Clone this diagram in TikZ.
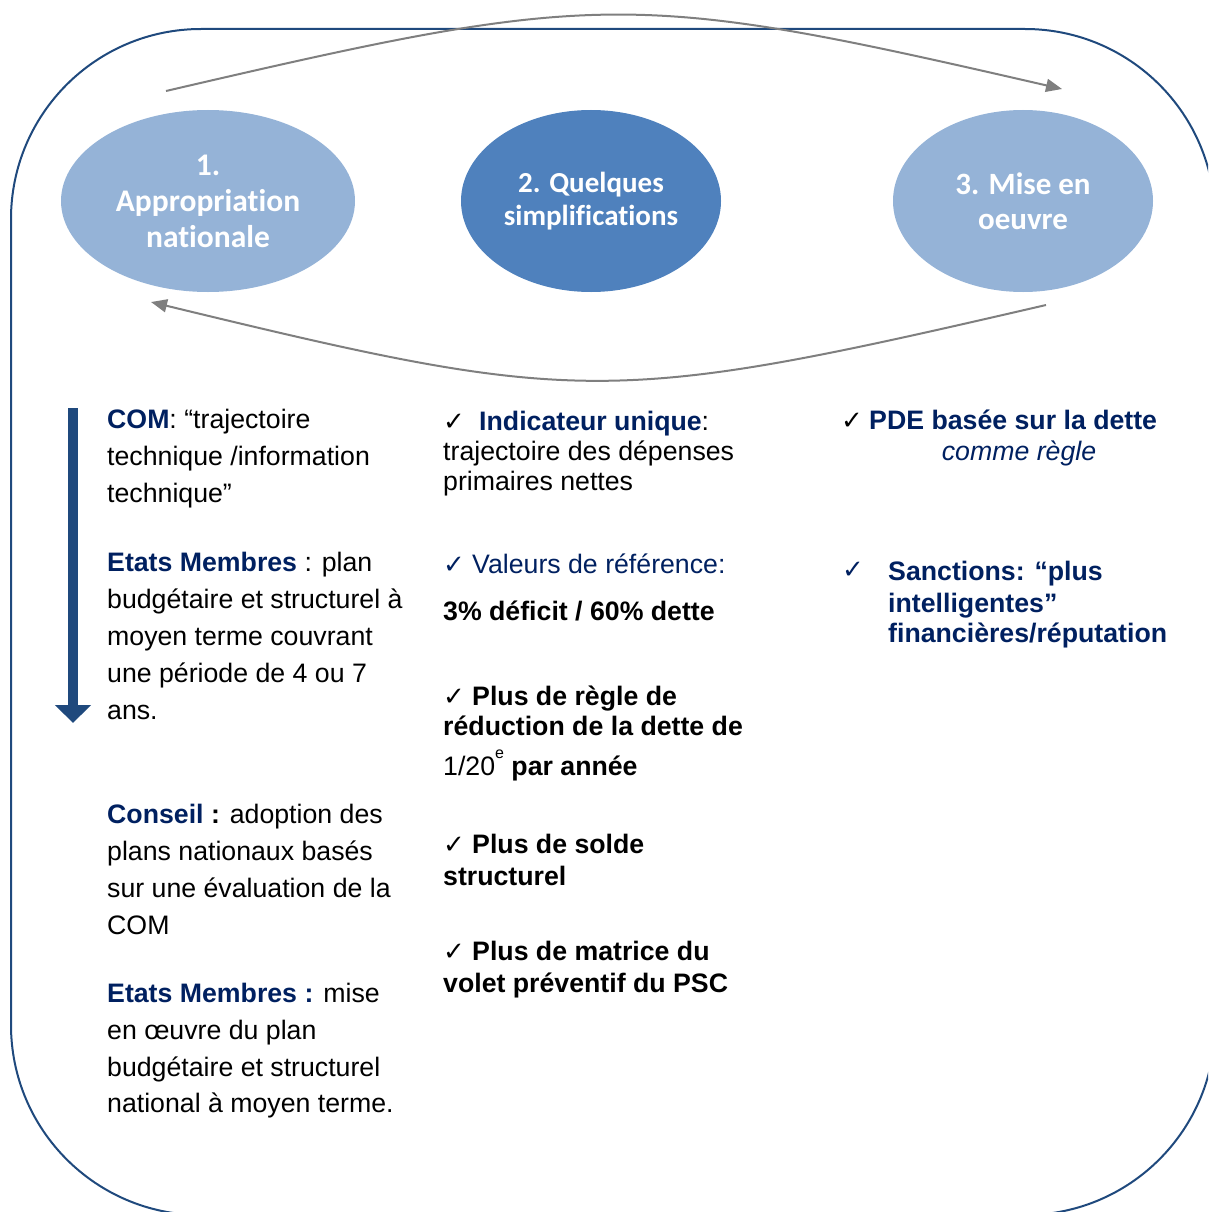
\documentclass[tikz,border=0pt]{standalone}
\usepackage{fontspec}
\setmainfont{Liberation Sans}
\newfontfamily\calibfont[Ligatures=NoCommon]{Carlito}
\newfontfamily\dejafont{DejaVu Sans}
\usetikzlibrary{shapes.geometric,arrows.meta}
\definecolor{navy}{RGB}{0,32,96}
\definecolor{frameblue}{RGB}{31,73,125}
\definecolor{lightblue}{RGB}{149,179,215}
\definecolor{midblue}{RGB}{79,129,189}
\definecolor{arcgray}{RGB}{127,127,127}
\newcommand{\chkmark}{{\dejafont\fontsize{26}{26}\selectfont ✓}}
\newcommand{\bl}[1]{{\bfseries\color{navy}#1}}
\begin{document}
\begin{tikzpicture}[x=1pt,y=-1pt,
  txt/.style={anchor=base west, inner sep=0pt, font=\fontsize{26.7}{37}\selectfont},
  ctxt/.style={anchor=base, inner sep=0pt, font=\fontsize{26.7}{37}\selectfont},
  ell/.style={ellipse, inner sep=0pt, align=center, text=white},
  arcline/.style={draw=arcgray, line width=2pt, -{Triangle[length=16pt,width=13pt]}}]
\useasboundingbox (0,0) rectangle (1208,1212);
\begin{scope}
\clip (0,0) rectangle (1208,1212);
\draw[frameblue, line width=2pt, rounded corners=190pt] (11,29) rectangle (1215,1215);
\end{scope}

% ellipses
\node[ell, fill=lightblue, minimum width=294pt, minimum height=182pt,
  font=\calibfont\bfseries\fontsize{31.5}{36}\selectfont] (e1) at (208,201) {1.\\Appropriation\\nationale};
\node[ell, fill=midblue, minimum width=260pt, minimum height=182pt,
  font=\calibfont\bfseries\fontsize{29}{33}\selectfont] (e2) at (591,201) {2. Quelques\\simplifications};
\node[ell, fill=lightblue, minimum width=260pt, minimum height=182pt,
  font=\calibfont\bfseries\fontsize{31}{35}\selectfont] (e3) at (1023,201) {3. Mise en\\oeuvre};

% cycle arrows
\coordinate (a1s) at (166,91);
\coordinate (a1e) at (1062,89);
\coordinate (a2s) at (1046,305);
\coordinate (a2e) at (151,302);
\draw[arcline] (a1s) .. controls (600,-10) and (632,-10) .. (a1e);
\draw[arcline] (a2s) .. controls (610,406) and (580,406) .. (a2e);

% left down arrow
\coordinate (d1) at (73,408);
\coordinate (d2) at (73,723);
\draw[frameblue, line width=10pt, -{Triangle[length=18pt,width=35pt]}] (d1) -- (d2);

% left column
\node[txt] (l1) at (107,428) {\bl{COM}: “trajectoire};
\node[txt] (l2) at (107,465) {technique /information};
\node[txt] (l3) at (107,502) {technique”};
\node[txt] (l4) at (107,571) {\bl{Etats Membres} : plan};
\node[txt] (l5) at (107,608) {budgétaire et structurel à};
\node[txt] (l6) at (107,645) {moyen terme couvrant};
\node[txt] (l7) at (107,682) {une période de 4 ou 7};
\node[txt] (l8) at (107,719) {ans.};
\node[txt] (l9) at (107,823) {\bl{Conseil} \textbf{:} adoption des};
\node[txt] (l10) at (107,860) {plans nationaux basés};
\node[txt] (l11) at (107,897) {sur une évaluation de la};
\node[txt] (l12) at (107,934) {COM};
\node[txt] (l13) at (107,1002) {\bl{Etats Membres :} mise};
\node[txt] (l14) at (107,1039) {en œuvre du plan};
\node[txt] (l15) at (107,1076) {budgétaire et structurel};
\node[txt] (l16) at (107,1112) {national à moyen terme.};

% middle column
\node[txt] (k1) at (443,430) {\chkmark};
\node[txt] (m1) at (479,430) {\bl{Indicateur unique}:};
\node[txt] (m2) at (443,460) {trajectoire des dépenses};
\node[txt] (m3) at (443,490) {primaires nettes};
\node[txt, text=navy] (k2) at (443,573) {\chkmark};
\node[txt, text=navy] (m4) at (472,573) {Valeurs de référence:};
\node[txt, font=\bfseries\fontsize{26.7}{37}\selectfont] (m5) at (443,620) {3\% déficit / 60\% dette};
\node[txt] (k3) at (443,705) {\chkmark};
\node[txt, font=\bfseries\fontsize{26.7}{37}\selectfont] (m6) at (472,705) {Plus de règle de};
\node[txt, font=\bfseries\fontsize{26.7}{37}\selectfont] (m7) at (443,735) {réduction de la dette de};
\node[txt] (m8) at (443,775) {1/20\raisebox{17pt}{\fontsize{16}{16}\selectfont e} \textbf{par année}};
\node[txt] (k4) at (443,853) {\chkmark};
\node[txt, font=\bfseries\fontsize{26.7}{37}\selectfont] (m9) at (472,853) {Plus de solde};
\node[txt, font=\bfseries\fontsize{26.7}{37}\selectfont] (m10) at (443,885) {structurel};
\node[txt] (k5) at (443,960) {\chkmark};
\node[txt, font=\bfseries\fontsize{26.7}{37}\selectfont] (m11) at (472,960) {Plus de matrice du};
\node[txt, font=\bfseries\fontsize{26.7}{37}\selectfont] (m12) at (443,992) {volet préventif du PSC};

% right column
\node[txt] (k6) at (841,429) {\chkmark};
\node[txt] (r1) at (869,429) {\bl{PDE basée sur la dette}};
\node[ctxt, text=navy, font=\itshape\fontsize{26.7}{37}\selectfont] (r2) at (1019,460) {comme règle};
\node[txt, text=navy] (k7) at (842,578) {\chkmark};
\node[txt] (r3) at (888,580) {\bl{Sanctions: “plus}};
\node[txt] (r4) at (888,612) {\bl{intelligentes”}};
\node[txt] (r5) at (888,642) {\bl{financières/réputation}};
\end{tikzpicture}
\end{document}
